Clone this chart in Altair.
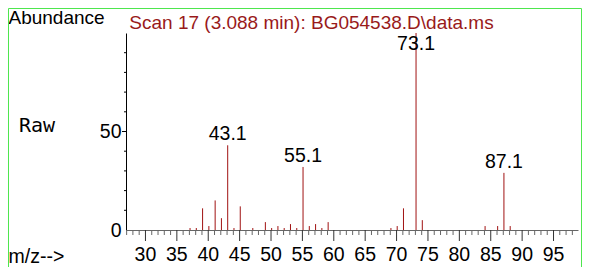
import altair as alt
import pandas as pd

# ---- data ----
masses = [37.1, 38.1, 39.1, 40.1, 41.1, 42.1, 43.1, 44.1, 45.1, 47.1,
          49.1, 50.1, 51.1, 52.1, 53.1, 54.1, 55.1, 56.1, 57.1, 58.1,
          59.1, 69.1, 70.1, 71.1, 73.1, 74.1, 84.1, 86.1, 87.1, 88.1]
abundance = [1, 1, 11, 2, 15, 6, 43, 1, 12, 1,
             4, 1, 2, 1, 3, 1, 32, 2, 3, 1,
             4, 1, 2, 11, 100, 5, 2, 2, 29, 2]

label_mass = [43.1, 55.1, 73.1, 87.1]
label_abund = [43, 32, 100, 29]
label_text = ["43.1", "55.1", "73.1", "87.1"]

x_minor = [v for v in range(27, 99) if v % 5 != 0]
x_major = list(range(30, 99, 5))
y_minor = [10, 20, 30, 40, 60, 70, 80, 90]
y_major = [0, 50]

title_text = "Scan 17 (3.088 min): BG054538.D\\data.ms"

peaks = pd.DataFrame({"mz": masses, "abund": abundance})
labels = pd.DataFrame({"mz": label_mass, "abund": label_abund, "text": label_text})
xmin_df = pd.DataFrame({"t": x_minor})
xmaj_df = pd.DataFrame({"t": x_major})
ymin_df = pd.DataFrame({"t": y_minor})
ymaj_df = pd.DataFrame({"t": [50]})
one = pd.DataFrame({"k": [0]})

FONT = "Liberation Sans"
RED = "#a01212"
TRED = "#991a1a"
GREEN = "#4ee64e"
FS = 19.5
H = 197

xscale = alt.Scale(domain=[26.9, 98.9], nice=False, zero=False)
yscale = alt.Scale(domain=[0, 100], nice=False, zero=True)

xaxis = alt.Axis(
    values=x_major, title=None, grid=False, ticks=False, labels=False,
    domainColor="#666666",
)
yaxis = alt.Axis(
    values=y_major, title=None, grid=False, format="d", ticks=False,
    domainColor="black", labelFont=FONT, labelFontSize=FS,
    labelColor="black", labelPadding=5, labelOverlap=False, labelFlush=False,
)

rules = alt.Chart(peaks).mark_rule(color=RED, strokeWidth=1).encode(
    x=alt.X("mz:Q", scale=xscale, axis=xaxis),
    y=alt.Y("abund:Q", scale=yscale, axis=yaxis),
    y2=alt.datum(0),
)

xt_minor = alt.Chart(xmin_df).mark_rule(color="#666666", strokeWidth=1).encode(
    x=alt.X("t:Q", scale=xscale), y=alt.value(H), y2=alt.value(H + 5))
xt_major = alt.Chart(xmaj_df).mark_rule(color="#333333", strokeWidth=1).encode(
    x=alt.X("t:Q", scale=xscale), y=alt.value(H), y2=alt.value(H + 11))
xt_labels = alt.Chart(xmaj_df).mark_text(
    font=FONT, fontSize=FS, color="black", align="center", baseline="alphabetic"
).encode(
    x=alt.X("t:Q", scale=xscale), y=alt.value(H + 30.5),
    text=alt.Text("t:Q", format="d"))
yt_minor = alt.Chart(ymin_df).mark_rule(color="black", strokeWidth=1).encode(
    y=alt.Y("t:Q", scale=yscale), x=alt.value(-2), x2=alt.value(0))
yt_major = alt.Chart(ymaj_df).mark_rule(color="black", strokeWidth=1).encode(
    y=alt.Y("t:Q", scale=yscale), x=alt.value(-4), x2=alt.value(0))

peak_labels = alt.Chart(labels).transform_calculate(
    ly="min(datum.abund, 89)"
).mark_text(font=FONT, fontSize=FS, baseline="alphabetic", align="center", dy=-5, color="black").encode(
    x=alt.X("mz:Q", scale=xscale),
    y=alt.Y("ly:Q", scale=yscale),
    text="text:N",
)


def note(txt, x, y, color="black", font=FONT, size=FS, align="left"):
    return alt.Chart(one).mark_text(
        text=txt, font=font, fontSize=size, color=color, align=align, baseline="alphabetic"
    ).encode(x=alt.value(x), y=alt.value(y))


abund_t = note("Abundance", -117.5, -9.2, size=19)
title_t = note(title_text, 185.5, -4, color=TRED, size=19, align="center")
raw_t = note("Raw", -107, 99.3, font="DejaVu Sans Mono", size=20)
mz_t = note("m/z-->", -117.5, 230.3)

frame_l = alt.Chart(one).mark_rule(color=GREEN, strokeWidth=1).encode(
    x=alt.value(-117.5), y=alt.value(-24.5), y2=alt.value(234))
frame_r = alt.Chart(one).mark_rule(color=GREEN, strokeWidth=1).encode(
    x=alt.value(455.5), y=alt.value(-24.5), y2=alt.value(234))
frame_t = alt.Chart(one).mark_rule(color=GREEN, strokeWidth=1).encode(
    x=alt.value(-117.5), x2=alt.value(455.5), y=alt.value(-24.5))

chart = alt.layer(
    rules, xt_minor, xt_major, xt_labels, yt_minor, yt_major, peak_labels,
    abund_t, title_t, raw_t, mz_t, frame_l, frame_r, frame_t
).properties(
    width=452, height=H,
    padding={"left": 118, "top": 25, "right": 4, "bottom": 37},
    autosize="none",
    background="white",
).configure_view(stroke=None)

chart.save("out.html", embed_options={"renderer": "svg", "actions": False})
